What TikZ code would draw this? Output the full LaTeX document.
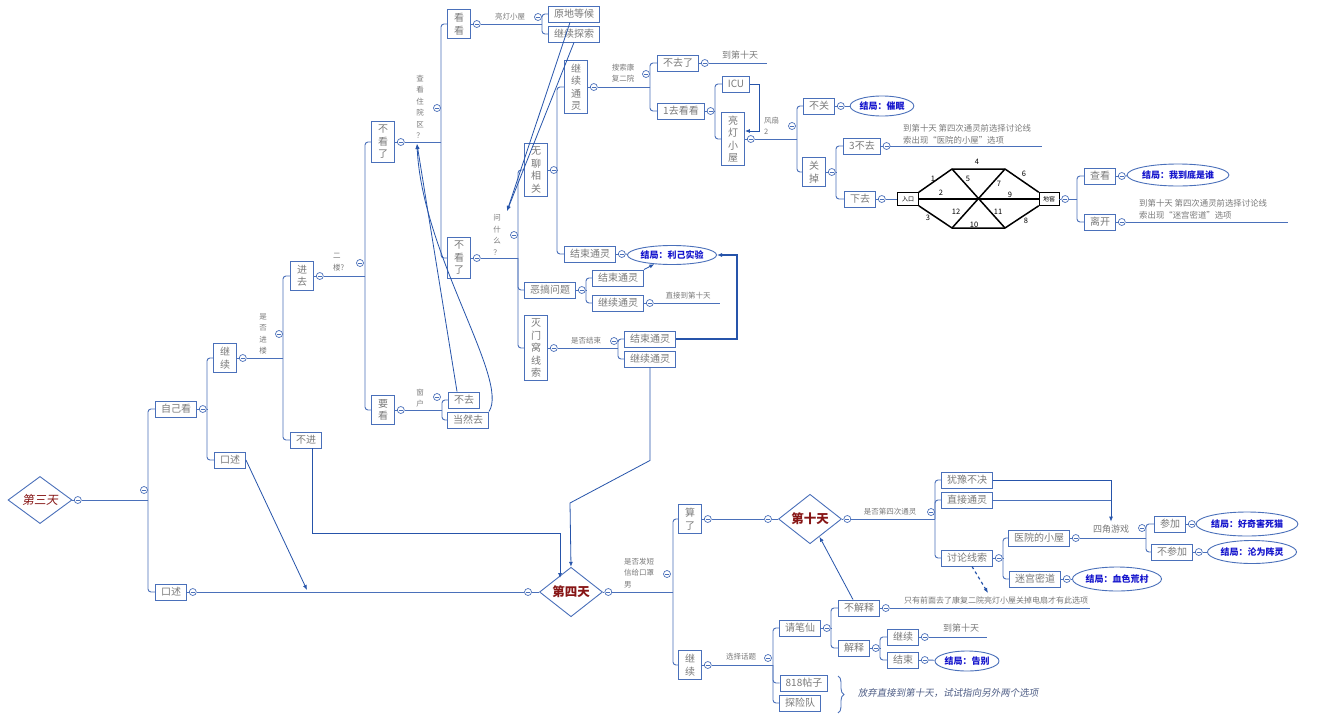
\documentclass[tikz,border=0pt]{standalone}
\usepackage{fontspec}
\setmainfont{Noto Sans CJK SC}
\newfontfamily\slantcjk[FakeSlant=0.18]{Noto Sans CJK SC}
\usepackage{tikz}
\usetikzlibrary{arrows.meta,positioning,calc,shapes.geometric,decorations.pathreplacing}
\definecolor{lnblue}{RGB}{74,112,186}
\definecolor{arblue}{RGB}{38,84,170}
\definecolor{txgray}{RGB}{122,122,122}
\definecolor{endblue}{RGB}{22,22,205}
\definecolor{dayred}{RGB}{135,22,22}
\definecolor{notegray}{RGB}{80,95,135}
\newcommand{\fork}[3]{%
  \draw[br] (#1) -- (#2);
  \foreach \kid in {#3} {\draw[br, rounded corners=3pt] (#2) |- (\kid.west);}}
\tikzset{
  tbox/.style={draw=lnblue, line width=0.9pt, fill=white, text=txgray, font=\fontsize{10}{12.5}\selectfont,
    inner xsep=5.5pt, inner ysep=3pt, text height=8.4pt, text depth=1.6pt},
  vbox/.style={draw=lnblue, line width=0.9pt, fill=white, text=txgray, font=\fontsize{10}{12.5}\selectfont,
    align=center, inner xsep=6.5pt, inner ysep=3.5pt},
  ccl/.style={circle, draw=lnblue, line width=0.7pt, fill=white, inner sep=0pt, minimum size=7pt,
    path picture={\draw[lnblue, line width=0.5pt] ([xshift=-2pt]path picture bounding box.center) -- ([xshift=2pt]path picture bounding box.center);}},
  lbl/.style={text=txgray, inner sep=0pt, font=\fontsize{7.5}{9}\selectfont},
  vlbl/.style={lbl, align=center, font=\fontsize{7.5}{11.5}\selectfont},
  tail/.style={text=txgray, inner sep=0pt, font=\fontsize{9}{11}\selectfont},
  note/.style={text=txgray, inner sep=0pt, align=left, font=\fontsize{8}{12}\selectfont},
  endel/.style={ellipse, draw=lnblue, line width=0.9pt, fill=white, text=endblue, inner sep=0pt,
    font=\fontsize{9}{11}\selectfont\bfseries},
  day/.style={diamond, draw=lnblue, line width=0.9pt, fill=white, text=dayred, inner sep=0pt,
    minimum width=63pt, minimum height=44pt, font=\fontsize{12.5}{14}\selectfont\bfseries},
  br/.style={lnblue, line width=0.9pt},
  jmp/.style={-{Latex[length=5pt, width=4pt]}, arblue, line width=0.8pt},
  mz/.style={black, line width=1.5pt},
  mzbox/.style={draw=black, line width=0.6pt, fill=white, inner sep=1pt, minimum width=21pt,
    minimum height=13pt, font=\fontsize{6}{7}\selectfont},
  mznum/.style={inner sep=0pt, font=\fontsize{7.5}{8}\selectfont},
}
\begin{document}
\begin{tikzpicture}[x=1pt, y=-1pt]
\fill[white] (0,0) rectangle (1320,715);
\useasboundingbox (0,0) rectangle (1320,715);

% days
\node[day, font=\slantcjk\fontsize{12}{14}\selectfont, minimum width=64pt] (d3) at (40,500) {第三天};
\node[day] (d4) at (571,592) {第四天};
\node[day] (d10) at (810,519) {第十天};

% boxes
\node[tbox] (n-zjk) at (176,409) {自己看};
\node[tbox] (n-kx2) at (171,592) {口述};
\node[vbox] (n-jx1) at (225,358) {继\\续};
\node[tbox] (n-kx1) at (230,460) {口述};
\node[vbox] (n-jq) at (302,276) {进\\去};
\node[tbox] (n-bj) at (306,440) {不进};
\node[vbox] (n-bkl1) at (383,142) {不\\看\\了};
\node[vbox] (n-yk) at (383,410) {要\\看};
\node[vbox] (n-kk) at (459,24) {看\\看};
\node[vbox] (n-bkl2) at (459,258) {不\\看\\了};
\node[tbox] (n-ydhd) at (574,14) {原地等候};
\node[tbox] (n-jxts) at (574,34) {继续探索};
\node[tbox] (n-bq) at (464,400) {不去};
\node[tbox] (n-drq) at (468,420) {当然去};
\node[vbox] (n-wlxg) at (536,170) {无\\聊\\相\\关};
\node[tbox] (n-ehwt) at (550,290) {恶搞问题};
\node[vbox] (n-mmwxs) at (536,348) {灭\\门\\窝\\线\\索};
\node[vbox] (n-jxtl1) at (576,87) {继\\续\\通\\灵};
\node[tbox] (n-jstl1) at (590,254) {结束通灵};
\node[tbox] (n-jstl2) at (618,278) {结束通灵};
\node[tbox] (n-jxtl2) at (618,303) {继续通灵};
\node[tbox] (n-jstl3) at (650,339) {结束通灵};
\node[tbox] (n-jxtl3) at (650,359) {继续通灵};
\node[tbox] (n-bql) at (678,63) {不去了};
\node[tbox] (n-qkk) at (681,111) {1去看看};
\node[tbox] (n-icu) at (736,84) {ICU};
\node[vbox] (n-ldxw) at (733,139) {亮\\灯\\小\\屋};
\node[tbox] (n-bg) at (819,106) {不关};
\node[vbox] (n-gd) at (814,172) {关\\掉};
\node[tbox] (n-3bq) at (862,146) {3不去};
\node[tbox] (n-xq) at (860,199) {下去};
\node[tbox] (n-ck) at (1100,176) {查看};
\node[tbox] (n-lk) at (1100,222) {离开};
\node[vbox] (n-sl) at (690,519) {算\\了};
\node[vbox] (n-jx2) at (690,665) {继\\续};
\node[tbox] (n-yybj) at (967,480) {犹豫不决};
\node[tbox] (n-zjtl) at (967,500) {直接通灵};
\node[tbox] (n-tlxs) at (967,558) {讨论线索};
\node[tbox] (n-yydxw) at (1039,538) {医院的小屋};
\node[tbox] (n-mgmd) at (1035,579) {迷宫密道};
\node[tbox] (n-cj) at (1170,524) {参加};
\node[tbox] (n-bcj) at (1172,552) {不参加};
\node[tbox] (n-qbx) at (800,628) {请笔仙};
\node[tbox] (n-818) at (804,683) {818帖子};
\node[tbox] (n-txd) at (800,703) {探险队};
\node[tbox] (n-bjs) at (859,608) {不解释};
\node[tbox] (n-js) at (854,648) {解释};
\node[tbox] (n-jx3) at (903,637) {继续};
\node[tbox] (n-jsh) at (903,660) {结束};

% endings
\node[endel, minimum width=81pt, minimum height=19pt] (e-liji) at (672,255) {结局：利己实验};
\node[endel, minimum width=62pt, minimum height=20pt] (e-cm) at (882,106) {结局：催眠};
\node[endel, minimum width=91pt, minimum height=22pt] (e-wddss) at (1178,175) {结局：我到底是谁};
\node[endel, minimum width=90pt, minimum height=24pt] (e-hqhsm) at (1247,524) {结局：好奇害死猫};
\node[endel, minimum width=80pt, minimum height=23pt] (e-lwzl) at (1252,552) {结局：沦为阵灵};
\node[endel, minimum width=80pt, minimum height=24pt] (e-sshc) at (1117,579) {结局：血色荒村};
\node[endel, minimum width=64pt, minimum height=20pt] (e-gb) at (967,661) {结局：告别};

% collapse circles
\foreach \b in {d3,d4,d10} {\node[ccl, right=1.5pt of \b] (x-\b) {};}
\foreach \b in {zjk,kx2,jx1,jq,bkl1,yk,kk,bkl2,wlxg,ehwt,mmwxs,jxtl1,jstl1,jxtl2,bql,qkk,ldxw,bg,gd,3bq,xq,ck,lk,sl,jx2,tlxs,yydxw,mgmd,cj,bcj,qbx,bjs,js,jx3,jsh}
  {\node[ccl, right=2pt of n-\b] (x-\b) {};}
\node[ccl] (x-d4l) at (528,592) {};
\node[ccl] (x-d10l) at (768,519) {};

% maze
\node[mzbox] (n-rk) at (908,199) {入口};
\node[mzbox, minimum width=20pt] (n-dj) at (1049,199) {地窖};
\coordinate (h-tl) at (952,169);
\coordinate (h-tr) at (1005,169);
\coordinate (h-bl) at (952,228);
\coordinate (h-br) at (1005,228);
\draw[mz] (n-rk.north east) -- (h-tl) -- (h-tr) -- (n-dj.north west);
\draw[mz] (n-rk.south east) -- (h-bl) -- (h-br) -- (n-dj.south west);
\draw[mz] (n-rk.east) -- (n-dj.west);
\draw[mz] (h-tl) -- (h-br);
\draw[mz] (h-tr) -- (h-bl);
\foreach \p/\t in {{933,179}/1,{941,193}/2,{928,218}/3,{977,162}/4,{968,179}/5,{1024,174}/6,
  {999,184}/7,{1026,221}/8,{1010,195}/9,{974,225}/10,{998,212}/11,{956,212}/12}
  {\node[mznum] at (\p) {\t};}
\node[ccl, right=2pt of n-dj] (x-dj) {};

% trunks
\coordinate (j-d3) at (148,500);
\coordinate (j-zjk) at (207,409);
\coordinate (j-jx1) at (283,358);
\coordinate (j-jq) at (365,276);
\coordinate (j-bkl1) at (441,142);
\coordinate (j-kk) at (542,24);
\coordinate (j-yk) at (442,410);
\coordinate (j-bkl2) at (518,258);
\coordinate (j-wlxg) at (557,170);
\coordinate (j-jxtl1) at (650,87);
\coordinate (j-qkk) at (715,111);
\coordinate (j-ldxw) at (797,139);
\coordinate (j-gd) at (836,172);
\coordinate (j-dj) at (1077,199);
\coordinate (j-ehwt) at (586,290);
\coordinate (j-mmwxs) at (618,348);
\coordinate (j-d4) at (673,592);
\coordinate (j-d10) at (935,519);
\coordinate (j-tlxs) at (1003,558);
\coordinate (j-yydxw) at (1146,538);
\coordinate (j-jx2) at (773,665);
\coordinate (j-qbx) at (831,628);
\coordinate (j-js) at (880,648);

\foreach \a/\b in {d3/x-d3,d4/x-d4,d10/x-d10,n-zjk/x-zjk,n-kx2/x-kx2,n-jx1/x-jx1,n-jq/x-jq,n-bkl1/x-bkl1,
  n-yk/x-yk,n-kk/x-kk,n-bkl2/x-bkl2,n-wlxg/x-wlxg,n-ehwt/x-ehwt,n-mmwxs/x-mmwxs,n-jxtl1/x-jxtl1,
  n-jstl1/x-jstl1,n-jxtl2/x-jxtl2,n-bql/x-bql,n-qkk/x-qkk,n-ldxw/x-ldxw,n-bg/x-bg,n-gd/x-gd,
  n-3bq/x-3bq,n-xq/x-xq,n-ck/x-ck,n-lk/x-lk,n-sl/x-sl,n-jx2/x-jx2,n-tlxs/x-tlxs,n-yydxw/x-yydxw,
  n-mgmd/x-mgmd,n-cj/x-cj,n-bcj/x-bcj,n-qbx/x-qbx,n-bjs/x-bjs,n-js/x-js,n-jx3/x-jx3,n-jsh/x-jsh,n-dj/x-dj}
  {\draw[br] (\a) -- (\b);}

\fork{x-d3}{j-d3}{n-zjk,n-kx2}
\fork{x-zjk}{j-zjk}{n-jx1,n-kx1}
\fork{x-jx1}{j-jx1}{n-jq,n-bj}
\fork{x-jq}{j-jq}{n-bkl1,n-yk}
\fork{x-bkl1}{j-bkl1}{n-kk,n-bkl2}
\fork{x-kk}{j-kk}{n-ydhd,n-jxts}
\fork{x-yk}{j-yk}{n-bq,n-drq}
\fork{x-bkl2}{j-bkl2}{n-wlxg,n-ehwt,n-mmwxs}
\fork{x-wlxg}{j-wlxg}{n-jxtl1,n-jstl1}
\fork{x-jxtl1}{j-jxtl1}{n-bql,n-qkk}
\fork{x-qkk}{j-qkk}{n-icu,n-ldxw}
\fork{x-ldxw}{j-ldxw}{n-bg,n-gd}
\fork{x-gd}{j-gd}{n-3bq,n-xq}
\fork{x-dj}{j-dj}{n-ck,n-lk}
\fork{x-ehwt}{j-ehwt}{n-jstl2,n-jxtl2}
\fork{x-mmwxs}{j-mmwxs}{n-jstl3,n-jxtl3}
\fork{x-d4}{j-d4}{n-sl,n-jx2}
\fork{x-d10}{j-d10}{n-yybj,n-zjtl,n-tlxs}
\fork{x-tlxs}{j-tlxs}{n-yydxw,n-mgmd}
\fork{x-yydxw}{j-yydxw}{n-cj,n-bcj}
\fork{x-jx2}{j-jx2}{n-qbx,n-818,n-txd}
\fork{x-qbx}{j-qbx}{n-bjs,n-js}
\fork{x-js}{j-js}{n-jx3,n-jsh}

% straight runs
\draw[br] (x-kx2) -- (x-d4l);
\draw[br] (x-d4l) -- (d4);
\draw[br] (x-sl) -- (x-d10l);
\draw[br] (x-d10l) -- (d10);
\draw[br] (x-xq) -- (n-rk);
\foreach \a/\b in {x-bg/e-cm,x-ck/e-wddss,x-cj/e-hqhsm,x-bcj/e-lwzl,x-mgmd/e-sshc,x-jsh/e-gb,x-jstl1/e-liji}
  {\draw[br] (\a) -- (\b);}

% tails with notes
\coordinate (t-bql) at (767,63);
\coordinate (t-3bq) at (1042,146);
\coordinate (t-lk) at (1288,222);
\coordinate (t-jxtl2) at (720,303);
\coordinate (t-bjs) at (1090,608);
\coordinate (t-jx3) at (987,637);
\foreach \b in {bql,3bq,lk,jxtl2,bjs,jx3} {\draw[br] (x-\b) -- (t-\b);}
\node[tail] (l-bql) at (740,55) {到第十天};
\node[note, anchor=south west, font=\fontsize{8.4}{12}\selectfont] (l-3bq) at (903,144) {到第十天 第四次通灵前选择讨论线\\索出现“医院的小屋”选项};
\node[note, anchor=south west, font=\fontsize{8.4}{12}\selectfont] (l-lk) at (1139,219) {到第十天 第四次通灵前选择讨论线\\索出现“迷宫密道”选项};
\node[lbl] (l-jxtl2) at (688,296) {直接到第十天};
\node[note] (l-bjs) at (996,600) {只有前面去了康复二院亮灯小屋关掉电扇才有此选项};
\node[tail] (l-jx3) at (961,628) {到第十天};

% branch labels
\node[vlbl] (l-sfjl) at (263,334) {是\\否\\进\\楼};
\node[vlbl, align=left, anchor=west] (l-el) at (333,262) {二\\楼?};
\node[vlbl] (l-ckzy) at (420,107) {查\\看\\住\\院\\区\\？};
\node[vlbl] (l-ch) at (420,398) {窗\\户};
\node[lbl] (l-ldxw) at (510,17) {亮灯小屋};
\node[vlbl] (l-wsm) at (497,235) {问\\什\\么\\？};
\node[vlbl, align=left] (l-ssk) at (623,73) {搜索康\\复二院};
\node[vlbl, align=left, anchor=west] (l-fs) at (764,126) {风扇\\2};
\node[lbl] (l-sfjs) at (586,341) {是否结束};
\node[vlbl, align=left, anchor=west] (l-sffdx) at (624,573) {是否发短\\信给口罩\\男};
\node[lbl] (l-sfdsc) at (890,512) {是否第四次通灵};
\node[tail] (l-sjyx) at (1111,529) {四角游戏};
\node[lbl] (l-xzht) at (741,657) {选择话题};

% jumps
\coordinate (t-kx) at (307,590);
\coordinate (t-bj) at (560,578);
\coordinate (t-bend) at (570,503);
\coordinate (t-wsm) at (507,211);
\coordinate (t-bkl1) at (417,144);
\coordinate (t-dash) at (988,593);
\draw[jmp] (n-kx1.east) -- (t-kx);
\draw[jmp] ([xshift=6pt]n-bj.south) -- ++(0,85) -| (t-bj);
\draw[jmp] (n-jxtl3.south) -- ++(0,93) -- (t-bend) -- (d4.north);
\draw[jmp, line width=1.3pt] (n-jstl3.east) -- ++(61,0) |- (e-liji.east);
\draw[jmp] (n-jstl2.north east) -- (e-liji);
\draw[jmp] (n-icu.east) -- ++(9,0) |- ([yshift=8pt]n-ldxw.east);
\draw[jmp] ([xshift=-4pt]n-ydhd.south) -- (t-wsm);
\draw[jmp] (n-jxts.south) -- (t-wsm);
\draw[jmp] ([xshift=-7pt]n-bq.north) -- (t-bkl1);
\draw[jmp] (n-drq.north east) .. controls (510,380) and (422,255) .. (t-bkl1);
\draw[jmp] (n-yybj.east) -| ([yshift=3pt]l-sjyx.north);
\draw[br] (n-zjtl.east) -- (n-zjtl.east -| l-sjyx.north);
\draw[jmp] ([xshift=-6pt]n-bjs.north) -- (d10);
\draw[jmp, dashed, line width=1.2pt] ([xshift=5pt]n-tlxs.south) -- (t-dash);

% brace and remark
\draw[lnblue, line width=0.9pt, decorate, decoration={brace, amplitude=6pt}] (838,676) -- (838,713);
\node[font=\slantcjk\fontsize{9.5}{11}\selectfont, text=notegray, inner sep=0pt] (l-fq) at (948,693) {放弃直接到第十天，试试指向另外两个选项};

% label circles
\foreach \n/\p in {r/{144,490},sfjl/{279,334},el/{360,263},ckzy/{437,108},ch/{437,397},ldxw1/{538,17},
  wsm/{514,235},sfjs/{614,341},ssk/{646,74},fs/{792,126},sffdx/{667,574},sfdsc/{931,512},
  sjyx/{1142,528},xzht/{768,658}}
  {\node[ccl] (x-\n) at (\p) {};}
\end{tikzpicture}
\end{document}
